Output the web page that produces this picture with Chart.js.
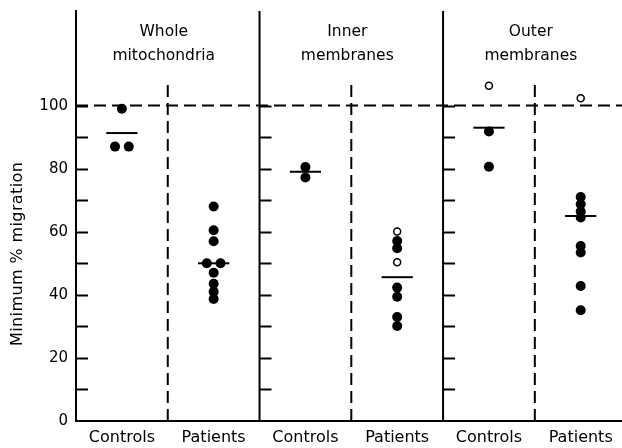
<!DOCTYPE html>
<html>
<head>
<meta charset="utf-8">
<script src="https://cdn.jsdelivr.net/npm/chart.js@4/dist/chart.umd.min.js"></script>
<style>
  body { margin: 0; background: #fff; }
</style>
</head>
<body>
<canvas id="chart" width="622" height="448"></canvas>
<script>
// groups along the x axis, two per panel
const categories = ['Controls', 'Patients', 'Controls', 'Patients', 'Controls', 'Patients'];
const panelTitles = [['Whole', 'mitochondria'], ['Inner', 'membranes'], ['Outer', 'membranes']];
const yTickLabels = [0, 20, 40, 60, 80, 100];
const yTitle = 'Minimum % migration';

// filled dots (minimum % migration)
const wholeControls = [99, 87, 87];
const wholePatients = [68, 60.5, 57, 50, 50, 47, 43.5, 41, 38.7];
const innerControls = [80.5, 77.2];
const innerPatients = [57.1, 54.8, 42.3, 39.4, 33.0, 30.1];
const outerControls = [91.8, 80.6];
const outerPatients = [71, 68.7, 66.4, 64.5, 55.5, 53.4, 42.8, 35.1];

// open circles
const innerPatientsOpen = [60.1, 50.3];
const outerControlsOpen = [106.3];
const outerPatientsOpen = [102.3];

// horizontal bars = group means
const groupMeans = [91.3, 50, 79, 45.6, 93, 65];
const referenceLevel = 100;

const filledGroups = [wholeControls, wholePatients, innerControls, innerPatients, outerControls, outerPatients];
const openGroups = [[], [], [], innerPatientsOpen, outerControlsOpen, outerPatientsOpen];

const xMax = 5.95;
const yMax = 130;

// put dots with the same value side by side
function toPoints(groups) {
  const pts = [];
  groups.forEach((vals, i) => {
    const centre = i + 0.5;
    vals.forEach((v, k) => {
      const same = vals.filter(w => w === v).length;
      let dx = 0;
      if (same > 1) {
        const idx = vals.slice(0, k).filter(w => w === v).length;
        dx = (idx - (same - 1) / 2) * 0.15;
      }
      pts.push({ x: centre + dx, y: v });
    });
  });
  return pts;
}

function line(points, dash, width) {
  return {
    data: points,
    showLine: true,
    pointRadius: 0,
    borderColor: '#000',
    borderWidth: width || 2,
    borderDash: dash || [],
    fill: false
  };
}

const datasets = [
  {
    label: 'filled',
    data: toPoints(filledGroups),
    pointRadius: 5,
    pointBackgroundColor: '#000',
    pointBorderColor: '#000',
    pointBorderWidth: 0
  },
  {
    label: 'open',
    data: toPoints(openGroups),
    pointRadius: 3.5,
    pointBackgroundColor: '#fff',
    pointBorderColor: '#000',
    pointBorderWidth: 1.5
  }
];

groupMeans.forEach((m, i) => {
  datasets.push(line([{ x: i + 0.33, y: m }, { x: i + 0.67, y: m }], null, 2));
});

// panel dividers and the 100% reference
[2, 4].forEach(p => datasets.push(line([{ x: p, y: 0 }, { x: p, y: yMax }], null, 2)));
[1, 3, 5].forEach(p => datasets.push(line([{ x: p, y: 0 }, { x: p, y: 108 }], [12, 6], 2)));
datasets.push(line([{ x: 0, y: referenceLevel }, { x: xMax, y: referenceLevel }], [12, 6], 2));

const panelDecor = {
  id: 'panelDecor',
  afterDraw(chart) {
    const { ctx, scales: { x, y } } = chart;
    ctx.save();
    ctx.strokeStyle = '#000';
    ctx.lineWidth = 2;
    // ticks point inward on every panel edge
    [0, 2, 4].forEach(edge => {
      const px = x.getPixelForValue(edge);
      y.ticks.forEach(t => {
        if (t.value <= 0 || t.value > 100) return;
        const py = Math.round(y.getPixelForValue(t.value)) + 0.5;
        ctx.beginPath();
        ctx.moveTo(px, py);
        ctx.lineTo(px + 12, py);
        ctx.stroke();
      });
    });
    ctx.fillStyle = '#000';
    ctx.font = '15.5px "DejaVu Sans"';
    ctx.textAlign = 'center';
    ctx.textBaseline = 'alphabetic';
    panelTitles.forEach((lines, i) => {
      const cx = x.getPixelForValue(2 * i + 1) - 4;
      lines.forEach((t, j) => ctx.fillText(t, cx, 36 + j * 24));
    });
    // y axis title sits lower than the plot centre in the original
    ctx.translate(18, y.getPixelForValue(53));
    ctx.rotate(-Math.PI / 2);
    ctx.font = '16px "DejaVu Sans"';
    ctx.letterSpacing = '0.4px';
    ctx.textBaseline = 'middle';
    ctx.fillText(yTitle, 0, 0);
    ctx.restore();
  }
};

const ctx = document.getElementById('chart').getContext('2d');
new Chart(ctx, {
  type: 'scatter',
  data: { datasets },
  plugins: [panelDecor],
  options: {
    responsive: false,
    animation: false,
    layout: { autoPadding: false, padding: { top: 11, left: 0, right: 0, bottom: 0 } },
    plugins: {
      legend: { display: false },
      tooltip: { enabled: false }
    },
    scales: {
      x: {
        type: 'linear',
        min: 0,
        max: xMax,
        afterBuildTicks: axis => { axis.ticks = categories.map((c, i) => ({ value: i + 0.5 })); },
        afterFit: s => { s.height = 27; s.paddingLeft = 0; s.paddingRight = 0; },
        ticks: {
          callback: (v, i) => categories[i],
          autoSkip: false,
          maxRotation: 0,
          padding: 7,
          color: '#000',
          font: { family: 'DejaVu Sans', size: 16 }
        },
        grid: { display: false, drawTicks: false },
        border: { display: true, color: '#000', width: 2 }
      },
      y: {
        min: 0,
        max: yMax,
        afterFit: s => { s.width = 76; s.paddingTop = 0; s.paddingBottom = 0; },
        ticks: {
          stepSize: 10,
          autoSkip: false,
          padding: 8,
          color: '#000',
          font: { family: 'DejaVu Sans', size: 15 },
          callback: v => (yTickLabels.includes(v) ? v : '')
        },
        grid: { display: false, drawTicks: false },
        border: { display: true, color: '#000', width: 2 }
      }
    }
  }
});
</script>
</body>
</html>
